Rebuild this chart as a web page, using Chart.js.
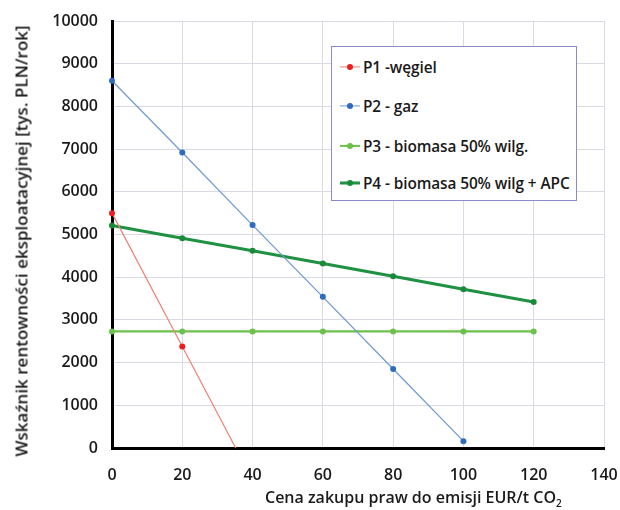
<!DOCTYPE html>
<html lang="pl">
<head>
<meta charset="UTF-8">
<title>Wskaźnik rentowności</title>
<script src="https://cdn.jsdelivr.net/npm/chart.js"></script>
<style>
  body { margin: 0; background: #fff; }
  .wrap { position: relative; width: 620px; height: 510px; font-family: "Open Sans", sans-serif; }
  canvas { position: absolute; left: 0; top: 0; }
  .legenda {
    position: absolute; left: 331px; top: 46px; width: 244px; height: 153px;
    border: 1.5px solid #8a8cc8; background: #fff;
  }
  .item { position: absolute; left: 8px; height: 20px; display: flex; align-items: center;
    font-size: 15.4px; font-weight: 600; color: #1a1a1a; white-space: nowrap; letter-spacing: -0.1px; }
  .probka { position: relative; width: 20px; margin-right: 3px; }
  .probka .kreska { position: absolute; left: 0; right: 0; top: 50%; transform: translateY(-50%); }
  .probka .kropka { position: absolute; left: 7px; top: 50%; width: 6px; height: 6px; margin-top: -3px; border-radius: 50%; }
  .tytulX { position: absolute; left: 265px; top: 486px; font-size: 16px; font-weight: 600; color: #1a1a1a; white-space: nowrap; }
  .tytulX sub { font-size: 10px; }
  .tytulY { position: absolute; left: 21px; top: 241px; width: 0; height: 0; }
  .tytulY span { position: absolute; left: 0; top: 0; transform: translate(-50%, -50%) rotate(-90deg);
    font-size: 17px; font-weight: 600; color: #1a1a1a; white-space: nowrap; }
</style>
</head>
<body>
<div class="wrap">
  <canvas id="wykres" width="620" height="510"></canvas>
  <div class="legenda" id="legenda"></div>
  <div class="tytulX">Cena zakupu praw do emisji EUR/t CO<sub>2</sub></div>
  <div class="tytulY"><span>Wskaźnik rentowności eksploatacyjnej [tys. PLN/rok]</span></div>
</div>
<script>
// dane
const cenaCO2 = [0, 20, 40, 60, 80, 100, 120];
const p1Cena = [0, 20, 35.2];
const p1Wegiel = [5500, 2375, 0];
const p2Gaz = [8600, 6920, 5220, 3540, 1850, 160];
const p3Biomasa = [2730, 2730, 2730, 2730, 2730, 2730, 2730];
const p4BiomasaApc = [5210, 4910, 4620, 4320, 4020, 3720, 3420];
const ticksX = [0, 20, 40, 60, 80, 100, 120, 140];

function punkty(xs, ys) {
  return ys.map((y, i) => ({ x: xs[i], y: y }));
}

const serie = [
  { label: 'P1 -węgiel', data: punkty(p1Cena, p1Wegiel), borderColor: '#f0806e', pointBackgroundColor: '#ee1c1c',
    borderWidth: 1.2, pointRadius: [3, 3, 0] },
  { label: 'P2 - gaz', data: punkty(cenaCO2, p2Gaz), borderColor: '#6f98d4', pointBackgroundColor: '#2f6cbf',
    borderWidth: 1.2, pointRadius: 3 },
  { label: 'P3 - biomasa 50% wilg.', data: punkty(cenaCO2, p3Biomasa), borderColor: '#6cc04c', pointBackgroundColor: '#6cc04c',
    borderWidth: 2.2, pointRadius: 3 },
  { label: 'P4 - biomasa 50% wilg + APC', data: punkty(cenaCO2, p4BiomasaApc), borderColor: '#1f9142', pointBackgroundColor: '#1a8a3a',
    borderWidth: 3, pointRadius: 3 }
];

const zbiory = serie.map(s => ({
  label: s.label,
  data: s.data,
  borderColor: s.borderColor,
  borderWidth: s.borderWidth,
  pointRadius: s.pointRadius,
  pointBackgroundColor: s.pointBackgroundColor,
  pointBorderWidth: 0,
  tension: 0,
  fill: false,
  clip: false
}));

const czcionka = { family: 'Open Sans', size: 16, weight: '600' };

const wykres = new Chart(document.getElementById('wykres'), {
  type: 'line',
  data: { datasets: zbiory },
  options: {
    responsive: false,
    animation: false,
    layout: { padding: { left: 0, right: 16, top: 21, bottom: 0 } },
    plugins: { legend: { display: false }, tooltip: { enabled: false } },
    scales: {
      x: {
        type: 'linear', min: 0, max: 140,
        afterBuildTicks: s => { s.ticks = ticksX.map(v => ({ value: v })); },
        afterFit: s => { s.height = 62; s.paddingLeft = 0; s.paddingRight = 0; },
        grid: { color: '#d9dae4', lineWidth: 1, drawTicks: false },
        border: { color: '#000', width: 3 },
        ticks: { padding: 18, color: '#1a1a1a', font: czcionka, callback: v => String(v) }
      },
      y: {
        min: 0, max: 10000,
        afterFit: s => { s.width = 112; s.paddingTop = 0; s.paddingBottom = 0; },
        grid: { color: '#d9dae4', lineWidth: 1, drawTicks: false },
        border: { color: '#000', width: 3 },
        ticks: { stepSize: 1000, padding: 14, color: '#1a1a1a', font: czcionka, callback: v => String(v) }
      }
    }
  }
});

// legenda w ramce
const legenda = document.getElementById('legenda');
const wysokosci = [10, 49, 89, 126];
serie.forEach((s, i) => {
  const el = document.createElement('div');
  el.className = 'item';
  el.style.top = wysokosci[i] + 'px';
  el.innerHTML = '<span class="probka" style="height:20px"><span class="kreska" style="height:' + s.borderWidth + 'px;background:' + s.borderColor + '"></span>' +
    '<span class="kropka" style="background:' + s.pointBackgroundColor + '"></span></span>' + s.label;
  legenda.appendChild(el);
});
</script>
</body>
</html>
